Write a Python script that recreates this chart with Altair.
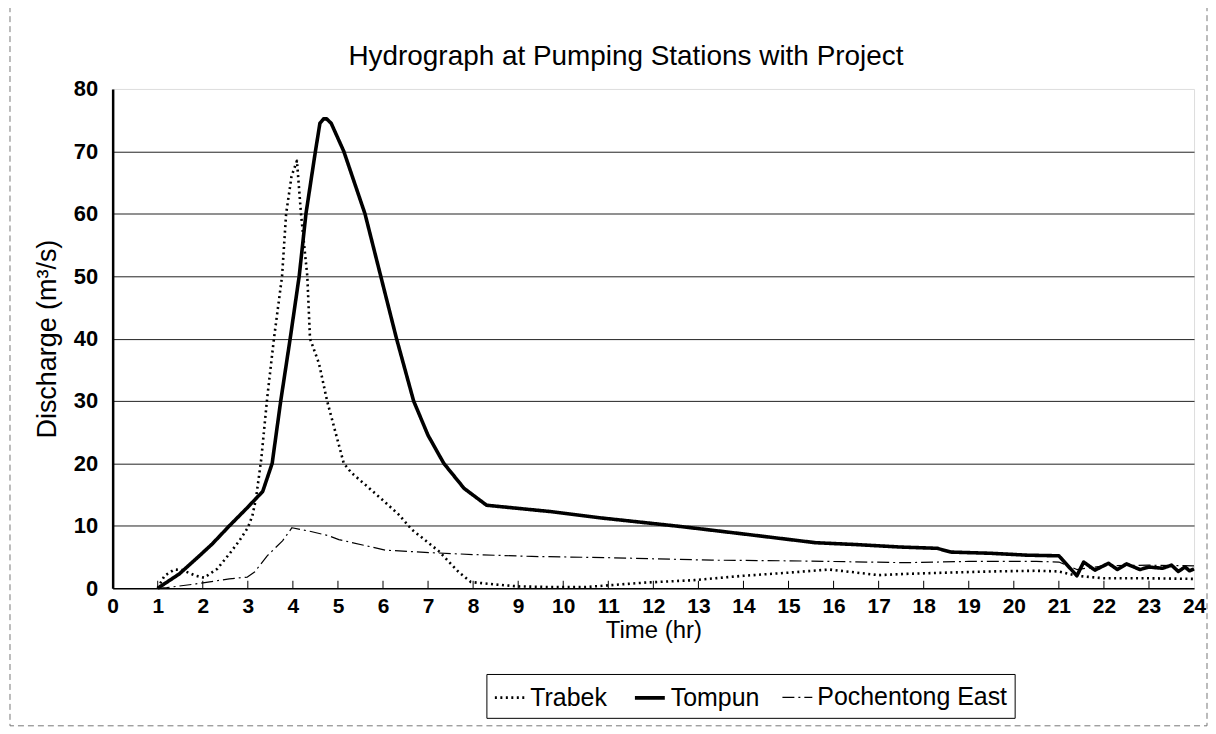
import altair as alt
import pandas as pd

# ---- data ----
tompun_t = [1.0, 1.48, 1.85, 2.21, 2.59, 2.96, 3.33, 3.54, 3.73, 3.94, 4.14, 4.29, 4.5, 4.6,
            4.68, 4.75, 4.85, 5.13, 5.6, 5.95, 6.3, 6.68, 7.0, 7.35, 7.8, 8.3, 9.0, 9.7, 10.8,
            12.6, 14.0, 15.6, 16.5, 17.5, 18.3, 18.6, 19.5, 20.3, 21.0, 21.4, 21.55, 21.8,
            22.1, 22.3, 22.5, 22.8, 23.0, 23.3, 23.5, 23.65, 23.8, 23.9, 24.0]
tompun_q = [0, 2.3, 4.7, 7.1, 10, 12.7, 15.5, 20, 30, 40, 50, 60, 70, 74.5,
            75.2, 75.2, 74.5, 70, 60, 50, 40, 30, 24.5, 20, 16, 13.3, 12.8, 12.3, 11.3,
            9.9, 8.7, 7.3, 7.0, 6.6, 6.4, 5.8, 5.6, 5.3, 5.2, 2.0, 4.2, 2.9,
            4.0, 3.0, 3.9, 3.0, 3.4, 3.2, 3.7, 2.7, 3.4, 2.8, 3.1]

trabek_t = [1.0, 1.15, 1.37, 1.55, 1.85, 2.03, 2.32, 2.59, 2.81, 3.0, 3.1, 3.18, 3.3, 3.43,
            3.58, 3.76, 3.85, 3.97, 4.09, 4.18, 4.32, 4.38, 4.58, 4.76, 5.13, 5.3, 5.7, 6.06,
            6.35, 6.64, 7.23, 7.68, 7.95, 8.5, 9.0, 9.7, 10.5, 11.8, 12.9, 14.0, 15.0, 15.9,
            16.4, 17.0, 17.6, 18.5, 19.5, 20.5, 21.0, 21.4, 22.0, 23.0, 24.0]
trabek_q = [0, 2.0, 3.0, 2.9, 2.0, 1.7, 3.1, 5.5, 7.6, 9.7, 11.6, 14.3, 20.8, 30.5,
            40, 50, 60, 66, 68.5, 60, 50, 40, 36, 30, 20, 18.5, 16, 13.7,
            11.8, 9.4, 6, 2.6, 1.0, 0.6, 0.3, 0.2, 0.2, 0.9, 1.3, 2.0, 2.5, 3.0,
            2.6, 2.1, 2.3, 2.5, 2.7, 2.8, 2.7, 2.0, 1.6, 1.6, 1.5]

poch_t = [1.0, 1.2, 1.85, 2.59, 2.99, 3.15, 3.43, 3.77, 3.98, 4.4, 4.8, 5.02, 6.06, 7.08,
          8.0, 9.3, 11.0, 13.3, 15.0, 17.6, 19.0, 20.5, 21.0, 21.4, 22.0, 23.0, 24.0]
poch_q = [0, 0.1, 0.7, 1.5, 1.8, 2.6, 5.2, 7.6, 9.7, 9.1, 8.4, 7.8, 6.1, 5.7,
          5.4, 5.1, 4.9, 4.5, 4.4, 4.1, 4.3, 4.3, 4.2, 3.0, 3.6, 3.7, 3.6]

series_names = ["Trabek", "Tompun", "Pochentong East"]
hours = list(range(0, 25))
y_ticks = [0, 10, 20, 30, 40, 50, 60, 70, 80]
title_text = "Hydrograph at Pumping Stations with Project"

rows = []
for name, ts, qs in [("Trabek", trabek_t, trabek_q),
                     ("Tompun", tompun_t, tompun_q),
                     ("Pochentong East", poch_t, poch_q)]:
    for i, (t, q) in enumerate(zip(ts, qs)):
        rows.append({"series": name, "t": t, "q": q, "order": i})
df = pd.DataFrame(rows)
df_hours = pd.DataFrame({"hour": hours[1:24]})
df_title = pd.DataFrame({"label": [title_text]})

SANS = "Liberation Sans, Arial, sans-serif"

W, H = 1085, 501

xscale = alt.Scale(domain=[0, 24], nice=False, zero=False)
yscale = alt.Scale(domain=[0, 80], nice=False)

legend = alt.Legend(
    title=None, orient="none", legendX=375, legendY=587, direction="horizontal",
    strokeColor="black", padding=7, symbolType="stroke", symbolSize=900,
    labelFont=SANS, labelFontSize=25, labelColor="black", columnPadding=20,
    labelOffset=4, symbolStrokeColor="black", labelLimit=400,
)

lines = alt.Chart(df).mark_line(strokeCap="butt", strokeJoin="round").encode(
    x=alt.X("t:Q", scale=xscale,
            axis=alt.Axis(values=hours, title="Time (hr)", grid=False, ticks=False,
                          labelFont=SANS, labelFontSize=21, labelFontWeight="bold",
                          labelColor="black", labelPadding=7, labelFlush=False,
                          titleFont=SANS, titleFontSize=24, titleFontWeight="normal",
                          titleColor="black", titlePadding=2,
                          domainColor="black", domainWidth=1.5)),
    y=alt.Y("q:Q", scale=yscale,
            axis=alt.Axis(values=y_ticks, title="Discharge (m³/s)", ticks=False,
                          labelFont=SANS, labelFontSize=22, labelFontWeight="bold",
                          labelColor="black", labelPadding=15,
                          titleFont=SANS, titleFontSize=27, titleFontWeight="normal",
                          titleColor="black", titlePadding=12,
                          domainColor="black", domainWidth=2.5,
                          gridColor="#222", gridWidth=1,
                          gridOpacity=alt.ExprRef(expr="datum.value >= 80 || datum.value <= 0 ? 0 : 1"))),
    color=alt.Color("series:N", sort=series_names,
                    scale=alt.Scale(domain=series_names, range=["black", "black", "black"]),
                    legend=legend),
    strokeDash=alt.StrokeDash("series:N", sort=series_names,
                              scale=alt.Scale(type="ordinal", domain=series_names,
                                              range=[[2, 3.5], [1, 0], [12, 4, 2, 4]]),
                              legend=legend),
    strokeWidth=alt.StrokeWidth("series:N", sort=series_names,
                                scale=alt.Scale(type="ordinal", domain=series_names,
                                                range=[2.6, 3.6, 1.2]),
                                legend=legend),
    order="order:Q",
    detail="series:N",
)

hour_ticks = alt.Chart(df_hours).mark_rule(color="black", strokeWidth=1).encode(
    x=alt.X("hour:Q", scale=xscale),
    y=alt.datum(0),
    y2=alt.datum(1.2),
)

frame = alt.Chart(df_title).mark_rect(fill=None, stroke="#777", strokeDash=[6, 4],
                                      strokeWidth=1).encode(
    x=alt.value(-103), x2=alt.value(1098), y=alt.value(-83), y2=alt.value(639)
)

title = alt.Chart(df_title).mark_text(font=SANS, fontSize=28, color="black",
                                      align="center", baseline="alphabetic").encode(
    x=alt.value(515), y=alt.value(-24), text="label:N"
)

chart = alt.layer(frame, lines, hour_ticks, title).properties(
    width=W, height=H,
    autosize=alt.AutoSizeParams(type="none"),
    padding={"left": 105, "top": 80, "right": 14, "bottom": 140},
).configure_view(stroke="black", strokeDash=[2, 2], strokeWidth=1
).configure(background="white")

chart.save("out.html", embed_options={"renderer": "svg", "actions": False})
